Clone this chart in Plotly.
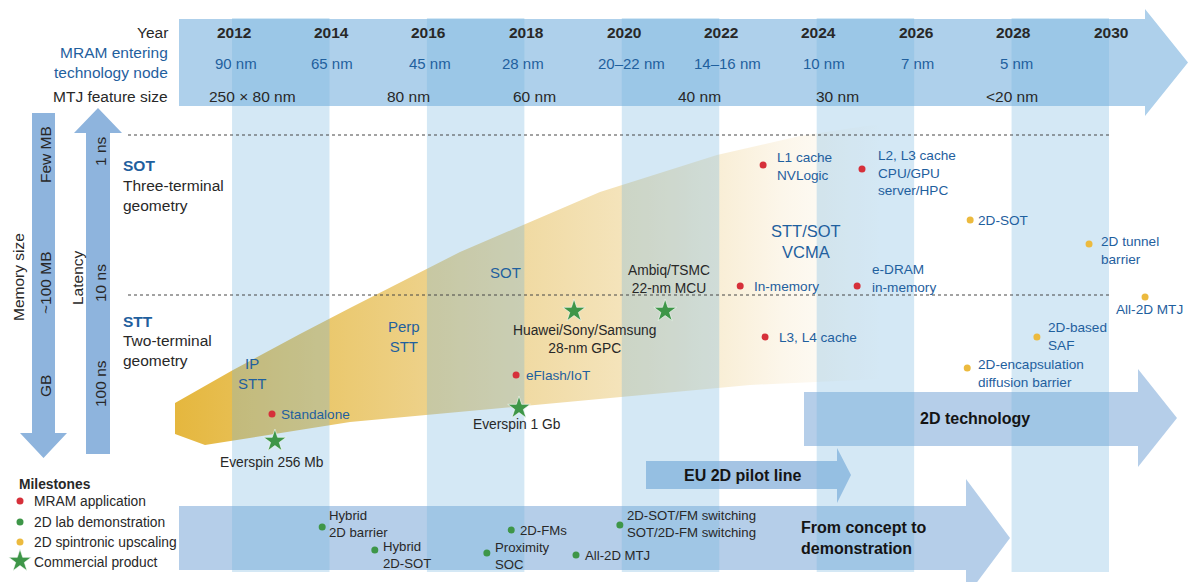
import plotly.graph_objects as go

# ---------------- DATA ----------------
year_ticks = [2012, 2014, 2016, 2018, 2020, 2022, 2024, 2026, 2028, 2030]

tech_nodes = ["90 nm", "65 nm", "45 nm", "28 nm", "20–22 nm", "14–16 nm", "10 nm", "7 nm", "5 nm"]
tech_node_years = [2012.04, 2014.01, 2016.02, 2017.93, 2020.15, 2022.12, 2024.11, 2026.02, 2028.07]

mtj_sizes = ["250 × 80 nm", "80 nm", "60 nm", "40 nm", "30 nm", "<20 nm"]
mtj_years = [2012.37, 2015.59, 2018.16, 2021.56, 2024.38, 2027.97]

band_start_years = [2012, 2016, 2020, 2024, 2028]

# MRAM applications (red)
app_names = ["Standalone", "eFlash/IoT", "L1 cache<br>NVLogic", "L2, L3 cache<br>CPU/GPU<br>server/HPC",
             "In-memory", "e-DRAM<br>in-memory", "L3, L4 cache"]
app_years = [2012.78, 2017.79, 2022.86, 2024.89, 2022.39, 2024.79, 2022.90]
app_levels = [414, 375, 165, 169, 286, 286, 337]

# Commercial products (stars)
prod_names = ["Everspin 256 Mb", "Everspin 1 Gb", "Huawei/Sony/Samsung<br>28-nm GPC", "Ambiq/TSMC<br>22-nm MCU"]
prod_years = [2012.84, 2017.85, 2018.98, 2020.85]
prod_levels = [441, 408, 311, 311]

# 2D lab demonstrations (green)
lab_names = ["Hybrid<br>2D barrier", "Hybrid<br>2D-SOT", "2D-FMs", "Proximity<br>SOC", "All-2D MTJ",
             "2D-SOT/FM switching<br>SOT/2D-FM switching"]
lab_years = [2013.81, 2014.89, 2017.69, 2017.19, 2019.02, 2019.92]
lab_levels = [527, 550, 530, 553, 555, 525]

# 2D spintronic upscaling (yellow)
up_names = ["2D-SOT", "2D tunnel<br>barrier", "All-2D MTJ", "2D-based<br>SAF", "2D-encapsulation<br>diffusion barrier"]
up_years = [2027.11, 2029.55, 2030.70, 2028.48, 2027.05]
up_levels = [220, 244, 297, 337, 368]

# ---------------- LAYOUT HELPERS ----------------
W, H = 1190, 582
PX_2012 = 234.0
PX_PER_YEAR = 48.72
FONT = "Liberation Sans, Arial, Helvetica, sans-serif"
BLUE_TXT = "rgb(31,96,158)"
DARK = "rgb(40,40,40)"


def yr(px):
    return 2012 + (px - PX_2012) / PX_PER_YEAR


def path(points):
    return "M " + " L ".join(f"{yr(x):.4f},{y}" for x, y in points) + " Z"


fig = go.Figure()
shapes = []
annotations = []


def ann(px, py, text, size=13, color=DARK, bold=False, xanchor="center", yanchor="middle",
        angle=0, align=None, xshift=0, x_is_year=False):
    if bold:
        text = "<b>" + text.replace("<br>", "</b><br><b>") + "</b>"
    annotations.append(dict(
        x=px if x_is_year else yr(px), y=py, xref="x", yref="y", text=text, showarrow=False,
        font=dict(family=FONT, size=size, color=color), xanchor=xanchor, yanchor=yanchor,
        textangle=angle, align=align or ("left" if xanchor == "left" else ("right" if xanchor == "right" else "center")),
        xshift=xshift,
    ))


# header arrow
shapes.append(dict(type="path", xref="x", yref="y", layer="below", line=dict(width=0),
                   fillcolor="rgb(174,208,235)",
                   path=path([(179, 19), (1145, 19), (1145, 9), (1188, 62.5), (1145, 116), (1145, 106), (179, 106)])))
# memory size arrow (down)
shapes.append(dict(type="path", xref="x", yref="y", layer="below", line=dict(width=0),
                   fillcolor="rgb(142,180,221)",
                   path=path([(32, 113), (55, 113), (55, 433), (67, 433), (43.5, 458), (20, 433), (32, 433)])))
# latency arrow (up)
shapes.append(dict(type="path", xref="x", yref="y", layer="below", line=dict(width=0),
                   fillcolor="rgb(142,180,221)",
                   path=path([(86, 454), (110, 454), (110, 133), (122, 133), (98, 108), (74, 133), (86, 133)])))
# From concept to demonstration arrow
shapes.append(dict(type="path", xref="x", yref="y", layer="below", line=dict(width=0),
                   fillcolor="rgba(120,165,215,0.55)",
                   path=path([(179, 506), (966, 506), (966, 479), (1010, 538), (966, 597), (966, 570), (179, 570)])))
# EU 2D pilot line arrow
shapes.append(dict(type="path", xref="x", yref="y", layer="below", line=dict(width=0),
                   fillcolor="rgba(110,160,212,0.62)",
                   path=path([(646, 461), (837, 461), (837, 448), (851, 475), (837, 503), (837, 489), (646, 489)])))
# 2D technology arrow
shapes.append(dict(type="path", xref="x", yref="y", layer="below", line=dict(width=0),
                   fillcolor="rgba(120,165,215,0.55)",
                   path=path([(804, 392), (1138, 392), (1138, 369), (1177, 418), (1138, 467), (1138, 446), (804, 446)])))

# dashed separators
for yline, xend in [(135, 1110), (295, 1112)]:
    shapes.append(dict(type="line", xref="x", yref="y", layer="above", x0=yr(128), x1=yr(xend), y0=yline, y1=yline,
                       line=dict(color="rgb(70,70,70)", width=1, dash="3px,3px")))

# yellow gradient region (STT -> SOT evolution)
upper = [(175, 403), (233, 370), (300, 334), (350, 308), (460, 252), (600, 192), (717, 155), (800, 136), (880, 124)]
lower = [(880, 379), (750, 385), (520, 406), (350, 422), (205, 445), (175, 434)]
poly = upper + lower + [upper[0]]
fig.add_trace(go.Scatter(
    x=[yr(p[0]) for p in poly], y=[p[1] for p in poly], mode="lines", fill="toself",
    line=dict(width=0, color="rgba(0,0,0,0)"), hoverinfo="skip", showlegend=False,
    fillgradient=dict(type="horizontal", colorscale=[
        [0.0, "rgb(229,183,62)"], [0.2, "rgb(234,199,106)"], [0.45, "rgb(239,215,155)"],
        [0.7, "rgb(246,232,198)"], [0.86, "rgb(252,246,234)"], [1.0, "rgb(255,255,255)"]]),
))

# vertical year bands
for y0 in band_start_years:
    xa, xb = y0 - 0.04, y0 + 1.96
    fig.add_trace(go.Scatter(x=[xa, xb, xb, xa, xa], y=[18, 18, 572, 572, 18], mode="lines", fill="toself",
                             fillcolor="rgba(112,178,222,0.30)", line=dict(width=0, color="rgba(0,0,0,0)"),
                             hoverinfo="skip", showlegend=False))

RED = "rgb(214,48,58)"
GREEN = "rgb(62,150,72)"
YEL = "rgb(236,186,62)"

fig.add_trace(go.Scatter(x=app_years, y=app_levels, mode="markers", marker=dict(size=7, color=RED),
                         showlegend=False, hoverinfo="skip"))
fig.add_trace(go.Scatter(x=lab_years, y=lab_levels, mode="markers", marker=dict(size=7, color=GREEN),
                         showlegend=False, hoverinfo="skip"))
fig.add_trace(go.Scatter(x=up_years, y=up_levels, mode="markers", marker=dict(size=7, color=YEL),
                         showlegend=False, hoverinfo="skip"))
fig.add_trace(go.Scatter(x=prod_years, y=prod_levels, mode="markers",
                         marker=dict(size=17, color=GREEN, symbol="star", line=dict(width=0.6, color="white")),
                         showlegend=False, hoverinfo="skip"))

# legend markers
fig.add_trace(go.Scatter(x=[yr(20), yr(20), yr(20)], y=[501, 522, 542], mode="markers",
                         marker=dict(size=7, color=[RED, GREEN, YEL]), showlegend=False, hoverinfo="skip"))
fig.add_trace(go.Scatter(x=[yr(20)], y=[561], mode="markers",
                         marker=dict(size=17, color=GREEN, symbol="star", line=dict(width=0.6, color="white")),
                         showlegend=False, hoverinfo="skip"))

# marker labels: (dx px, dy px, xanchor)
app_lbl = [(7, 0, "left"), (8, 0, "left"), (12, 1, "left"), (14, 4, "left"), (12, 0, "left"),
           (13, -8, "left"), (12, 0, "left")]
prod_lbl = [(-3, 21, "center"), (-2, 16, "center"), (10, 28, "center"), (4, -32, "center")]
lab_lbl = [(5, -3, "left"), (6, 5, "left"), (7, 0, "left"), (6, 3, "left"), (7, 0, "left"), (5, -1, "left")]
up_lbl = [(6, 0, "left"), (10, 6, "left"), (4, 12, "center"), (9, -1, "left"), (9, 5, "left")]

for names, yrs, lvls, lbl, col, fs in [(app_names, app_years, app_levels, app_lbl, BLUE_TXT, 13.6),
                                       (prod_names, prod_years, prod_levels, prod_lbl, DARK, 13.8),
                                       (lab_names, lab_years, lab_levels, lab_lbl, DARK, 13.2),
                                       (up_names, up_years, up_levels, up_lbl, BLUE_TXT, 13.6)]:
    for n, xv, lv, (dx, dy, xa) in zip(names, yrs, lvls, lbl):
        ann(xv, lv + dy, n, size=fs, color=col, xanchor=xa, xshift=dx, x_is_year=True)

# header texts
HS = 15.5
ann(170, 32, "Year", size=HS, color=DARK, xanchor="right")
ann(170, 62.5, "MRAM entering<br>technology node", size=HS, color=BLUE_TXT, xanchor="right", align="right")
ann(170, 96, "MTJ feature size", size=HS, color=DARK, xanchor="right")
for y in year_ticks:
    ann(y, 32, str(y), size=HS, color=DARK, bold=True, x_is_year=True)
for t, xv in zip(tech_nodes, tech_node_years):
    ann(xv, 63, t, size=15, color=BLUE_TXT, x_is_year=True)
for t, xv in zip(mtj_sizes, mtj_years):
    ann(xv, 96, t, size=HS, color=DARK, x_is_year=True)

# left side
LS = 15.5
ann(18, 277, "Memory size", size=LS, color=DARK, angle=-90)
ann(45, 155, "Few MB", size=LS, color=DARK, angle=-90)
ann(45, 283, "~100 MB", size=LS, color=DARK, angle=-90)
ann(45, 386, "GB", size=LS, color=DARK, angle=-90)
ann(77, 278, "Latency", size=LS, color=DARK, angle=-90)
ann(100, 151, "1 ns", size=LS, color=DARK, angle=-90)
ann(100, 283, "10 ns", size=LS, color=DARK, angle=-90)
ann(100, 384, "100 ns", size=LS, color=DARK, angle=-90)

ann(121, 165, "SOT", size=LS, color=BLUE_TXT, bold=True, xanchor="left")
ann(121, 195, "Three-terminal<br>geometry", size=LS, color=DARK, xanchor="left")
ann(121, 321, "STT", size=LS, color=BLUE_TXT, bold=True, xanchor="left")
ann(121, 350, "Two-terminal<br>geometry", size=LS, color=DARK, xanchor="left")

# region labels
ann(252, 373, "IP<br>STT", size=15, color=BLUE_TXT)
ann(404, 336, "Perp<br>STT", size=15, color=BLUE_TXT)
ann(505, 272, "SOT", size=15, color=BLUE_TXT)
ann(806, 241, "STT/SOT<br>VCMA", size=16.5, color=BLUE_TXT)

# arrow texts
ann(975, 418, "2D technology", size=16, color="rgb(20,20,20)", bold=True)
ann(742, 475, "EU 2D pilot line", size=16, color="rgb(20,20,20)", bold=True)
ann(799, 538, "From concept to<br>demonstration", size=16, color="rgb(20,20,20)", bold=True, xanchor="left")

# milestones legend
ann(17, 484, "Milestones", size=13.8, color=DARK, bold=True, xanchor="left")
ann(32, 501, "MRAM application", size=13.8, color=DARK, xanchor="left")
ann(32, 522, "2D lab demonstration", size=13.8, color=DARK, xanchor="left")
ann(32, 542, "2D spintronic upscaling", size=13.8, color=DARK, xanchor="left")
ann(32, 562, "Commercial product", size=13.8, color=DARK, xanchor="left")

fig.update_layout(
    width=W, height=H, margin=dict(l=0, r=0, t=0, b=0),
    paper_bgcolor="white", plot_bgcolor="white",
    xaxis=dict(range=[yr(0), yr(W)], visible=False, fixedrange=True),
    yaxis=dict(range=[H, 0], visible=False, fixedrange=True),
    shapes=shapes, annotations=annotations, showlegend=False,
    font=dict(family=FONT),
)

fig.write_html("out.html", config=dict(displayModeBar=False),
               post_script="document.body.style.margin='0';document.body.style.overflow='hidden';")
